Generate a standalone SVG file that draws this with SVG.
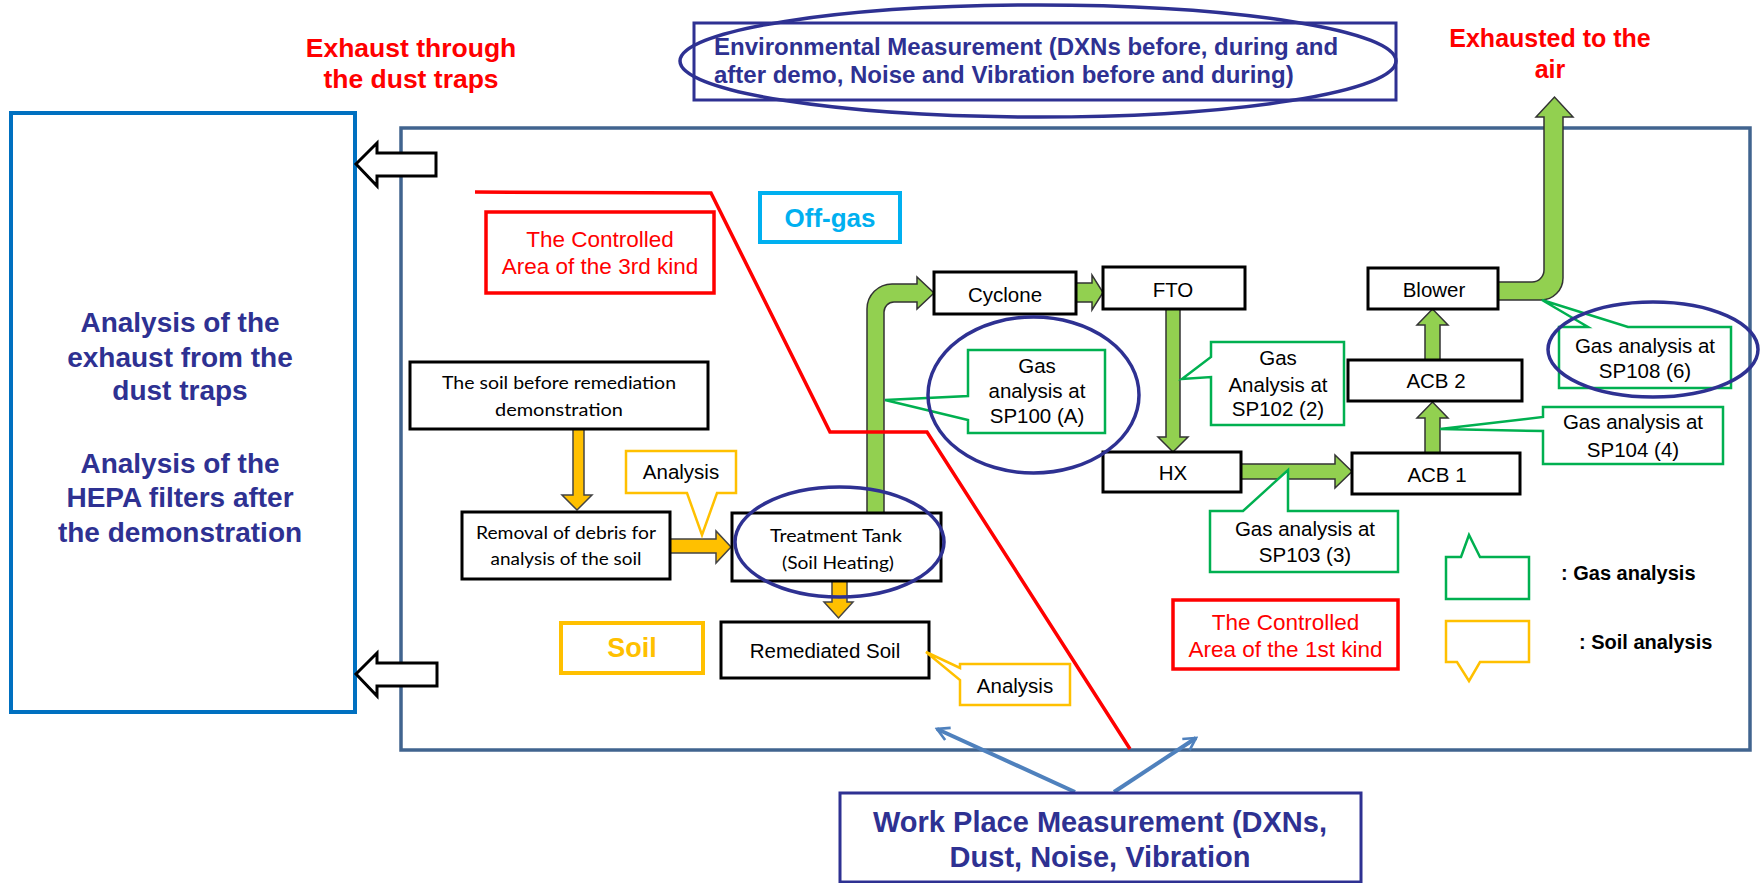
<svg xmlns="http://www.w3.org/2000/svg" width="1760" height="883" viewBox="0 0 1760 883">
<defs>
<style>
.box{fill:#fff;stroke:#000;stroke-width:3}
.t{font-family:"Liberation Sans",Arial,sans-serif;font-size:20.5px;fill:#000;text-anchor:middle}
.cal{font-family:Lato,"Liberation Sans",sans-serif;font-size:18px;fill:#000;text-anchor:middle}
.gco{fill:#fff;stroke:#00B050;stroke-width:2.5}
.yco{fill:#fff;stroke:#FFC000;stroke-width:2.5}
.garr{fill:#92D050;stroke:#333;stroke-width:1.5}
.yarr{fill:#FFC000;stroke:#444;stroke-width:1.5}
.ell{fill:none;stroke:#2E3192;stroke-width:3.5}
.navy{font-family:"Liberation Sans",Arial,sans-serif;font-weight:bold;fill:#2E3192;text-anchor:middle}
.redt{font-family:"Liberation Sans",Arial,sans-serif;font-weight:bold;fill:#FF0000;text-anchor:middle}
.redb{fill:#fff;stroke:#FF0000;stroke-width:3.5}
.rt{font-family:"Liberation Sans",Arial,sans-serif;font-size:22.5px;fill:#FF0000;text-anchor:middle}
.hollow{fill:#fff;stroke:#000;stroke-width:3;stroke-linejoin:miter}
.blue{stroke:#4F81BD;stroke-width:4;fill:none}
</style>
<marker id="ah" viewBox="0 0 12 12" refX="10" refY="6" markerWidth="4" markerHeight="4" orient="auto" markerUnits="strokeWidth">
<path d="M1,1 L10,6 L1,11" fill="none" stroke="#4F81BD" stroke-width="2"/>
</marker>
</defs>
<rect width="1760" height="883" fill="#fff"/>

<g id="main-area">
<rect x="401" y="128" width="1349" height="622" fill="none" stroke="#41648F" stroke-width="3.5"/>
</g>

<g id="title-exhaust-dust">
<text class="redt" font-size="26.5" x="411" y="57">Exhaust through</text>
<text class="redt" font-size="26.5" x="411" y="88">the dust traps</text>
</g>
<g id="title-exhaust-air">
<text class="redt" font-size="25" x="1550" y="47">Exhausted to the</text>
<text class="redt" font-size="25" x="1550" y="78">air</text>
</g>

<g id="env-measurement">
<rect x="694" y="23" width="702" height="77" fill="#fff" stroke="#2E3192" stroke-width="3"/>
<text font-family="Liberation Sans, Arial, sans-serif" font-weight="bold" font-size="24" fill="#2E3192" x="714" y="55">Environmental Measurement (DXNs before, during and</text>
<text font-family="Liberation Sans, Arial, sans-serif" font-weight="bold" font-size="24" fill="#2E3192" x="714" y="83">after demo, Noise and Vibration before and during)</text>
<ellipse class="ell" cx="1038" cy="61" rx="358" ry="56"/>
</g>

<g id="left-analysis">
<rect x="11" y="113" width="344" height="599" fill="#fff" stroke="#0070C0" stroke-width="4"/>
<text class="navy" font-size="28" x="180" y="332">Analysis of the</text>
<text class="navy" font-size="28" x="180" y="367">exhaust from the</text>
<text class="navy" font-size="28" x="180" y="400">dust traps</text>
<text class="navy" font-size="28" x="180" y="473">Analysis of the</text>
<text class="navy" font-size="28" x="180" y="507">HEPA filters after</text>
<text class="navy" font-size="28" x="180" y="542">the demonstration</text>
</g>

<g id="area-3rd">
<rect class="redb" x="486" y="212" width="228" height="81"/>
<text class="rt" x="600" y="247">The Controlled</text>
<text class="rt" x="600" y="274">Area of the 3rd kind</text>
</g>

<g id="area-1st">
<rect class="redb" x="1173" y="600" width="225" height="69"/>
<text class="rt" x="1285.5" y="630">The Controlled</text>
<text class="rt" x="1285.5" y="657">Area of the 1st kind</text>
</g>

<g id="off-gas-label">
<rect x="760" y="193" width="140" height="49" fill="#fff" stroke="#00B0F0" stroke-width="4"/>
<text font-family="Liberation Sans, Arial, sans-serif" font-weight="bold" font-size="26" fill="#00B0F0" text-anchor="middle" x="830" y="227">Off-gas</text>
</g>

<g id="soil-label">
<rect x="561" y="623" width="142" height="50" fill="#fff" stroke="#FFC000" stroke-width="4"/>
<text font-family="Liberation Sans, Arial, sans-serif" font-weight="bold" font-size="27" fill="#FFC000" text-anchor="middle" x="632" y="657">Soil</text>
</g>

<g id="connectors">
<path class="hollow" d="M436,153 H377 V143 L356,164 L377,186 V176 H436 Z"/>
<path class="hollow" d="M437,663 H377 V653 L356,674 L377,696 V686 H437 Z"/>
<path class="yarr" d="M573,429 H584 V495 H592 L577,510 L562,495 H573 Z"/>
<path class="yarr" d="M670,539 H716 V531 L731,547 L716,563 V553 H670 Z"/>
<path class="yarr" d="M832,581 H847 V602 H853 L838.5,618 L824,602 H832 Z"/>
<path class="garr" d="M867,513 V309 A25,25 0 0 1 892,284 H917 V277 L934,293 L917,309 V302 H894 A10,10 0 0 0 884,312 V513 Z"/>
<path class="garr" d="M1076,283 H1092 V275 L1103,292.5 L1092,310 V302 H1076 Z"/>
<path class="garr" d="M1166,309 H1180 V437 H1188 L1173,452 L1158,437 H1166 Z"/>
<path class="garr" d="M1241,464 H1335 V455 L1352,471.5 L1335,488 V479 H1241 Z"/>
<path class="garr" d="M1425,453 V418 H1417 L1432.5,402 L1448,418 H1440 V453 Z"/>
<path class="garr" d="M1425,360 V325 H1417 L1432.5,309 L1448,325 H1440 V360 Z"/>
<path class="garr" d="M1498,282 H1532 A12,12 0 0 0 1544,270 V117 H1536 L1554.5,97 L1573,117 H1563 V278 A22,22 0 0 1 1541,300 H1498 Z"/>
<polyline points="475,192 711,193 830,432 927,432 1130,749" fill="none" stroke="#FF0000" stroke-width="3.5"/>
<line class="blue" x1="1075" y1="792" x2="937" y2="729" marker-end="url(#ah)"/>
<line class="blue" x1="1114" y1="792" x2="1196" y2="738" marker-end="url(#ah)"/>
</g>

<g id="soil-before">
<rect class="box" x="410" y="362" width="298" height="67"/>
<text class="cal" x="559" y="389" textLength="234" lengthAdjust="spacingAndGlyphs">The soil before remediation</text>
<text class="cal" x="559" y="416" textLength="128" lengthAdjust="spacingAndGlyphs">demonstration</text>
</g>

<g id="removal">
<rect class="box" x="462" y="512" width="208" height="67"/>
<text class="cal" x="566" y="539" textLength="180" lengthAdjust="spacingAndGlyphs">Removal of debris for</text>
<text class="cal" x="566" y="565" textLength="151" lengthAdjust="spacingAndGlyphs">analysis of the soil</text>
</g>

<g id="analysis-1">
<path class="yco" d="M626,451 H736 V493 H717 L702,535 L687,493 H626 Z"/>
<text class="t" font-size="20" x="681" y="479">Analysis</text>
</g>

<g id="treatment-tank">
<rect class="box" x="732" y="513" width="209" height="68"/>
<text class="cal" x="836" y="542" textLength="132" lengthAdjust="spacingAndGlyphs">Treatment Tank</text>
<text class="cal" x="838" y="569" textLength="112" lengthAdjust="spacingAndGlyphs">(Soil Heating)</text>
<ellipse class="ell" cx="839.5" cy="542" rx="104.5" ry="55"/>
</g>

<g id="remediated">
<rect class="box" x="721" y="622" width="208" height="56"/>
<text class="t" font-size="20.2" x="825" y="658">Remediated Soil</text>
</g>

<g id="analysis-2">
<path class="yco" d="M960,664 H1070 V705 H960 V680 L926,652 L960,668 Z"/>
<text class="t" font-size="20" x="1015" y="693">Analysis</text>
</g>

<g id="cyclone">
<rect class="box" x="934" y="272" width="142" height="42"/>
<text class="t" x="1005" y="302">Cyclone</text>
</g>

<g id="fto">
<rect class="box" x="1103" y="267" width="142" height="42"/>
<text class="t" x="1173" y="297">FTO</text>
</g>

<g id="hx">
<rect class="box" x="1103" y="452" width="138" height="40"/>
<text class="t" x="1173" y="480">HX</text>
</g>

<g id="acb1">
<rect class="box" x="1352" y="453" width="168" height="41"/>
<text class="t" x="1437" y="482">ACB 1</text>
</g>

<g id="acb2">
<rect class="box" x="1348" y="360" width="174" height="41"/>
<text class="t" x="1436" y="388">ACB 2</text>
</g>

<g id="blower">
<rect class="box" x="1368" y="268" width="130" height="41"/>
<text class="t" x="1434" y="297">Blower</text>
</g>

<g id="sp100">
<path class="gco" d="M968,350 H1105 V433 H968 V420 L885,400 L968,396 Z"/>
<text class="t" font-size="20" x="1037" y="373">Gas</text>
<text class="t" font-size="20" x="1037" y="398">analysis at</text>
<text class="t" font-size="20" x="1037" y="423">SP100 (A)</text>
<ellipse class="ell" cx="1033.5" cy="395" rx="105.5" ry="78"/>
</g>

<g id="sp102">
<path class="gco" d="M1211,342 H1344 V425 H1211 V377 L1182,379 L1211,357 Z"/>
<text class="t" font-size="20" x="1278" y="365">Gas</text>
<text class="t" font-size="20" x="1278" y="392">Analysis at</text>
<text class="t" font-size="20" x="1278" y="416">SP102 (2)</text>
</g>

<g id="sp103">
<path class="gco" d="M1210,511 H1243 L1288,470 V511 H1398 V572 H1210 Z"/>
<text class="t" font-size="20" x="1305" y="536">Gas analysis at</text>
<text class="t" font-size="20" x="1305" y="562">SP103 (3)</text>
</g>

<g id="sp104">
<path class="gco" d="M1543,407 H1723 V464 H1543 V431 L1440,429 L1543,417 Z"/>
<text class="t" font-size="19.5" x="1633" y="429">Gas analysis at</text>
<text class="t" font-size="17" x="1633" y="457">SP104 (4)</text>
</g>

<g id="sp108">
<path class="gco" d="M1559,327 H1588 L1542,300 L1628,327 H1731 V388 H1559 Z"/>
<text class="t" font-size="20" x="1645" y="353">Gas analysis at</text>
<text class="t" font-size="20" x="1645" y="378">SP108 (6)</text>
<ellipse class="ell" cx="1653" cy="349.5" rx="105" ry="47.5"/>
</g>

<g id="legend">
<path class="gco" d="M1446,557 H1461 L1469,535 L1480,557 H1529 V599 H1446 Z"/>
<text font-family="Liberation Sans, Arial, sans-serif" font-weight="bold" font-size="20" x="1561" y="580">: Gas analysis</text>
<path class="yco" d="M1446,621 H1529 V662 H1480 L1469,681 L1457,662 H1446 Z"/>
<text font-family="Liberation Sans, Arial, sans-serif" font-weight="bold" font-size="20" x="1579" y="649">: Soil analysis</text>
</g>

<g id="work-place">
<rect x="840" y="793" width="521" height="89" fill="#fff" stroke="#2E3192" stroke-width="3"/>
<text class="navy" font-size="29" x="1100" y="832">Work Place Measurement (DXNs,</text>
<text class="navy" font-size="29" x="1100" y="867">Dust, Noise, Vibration</text>
</g>
</svg>
